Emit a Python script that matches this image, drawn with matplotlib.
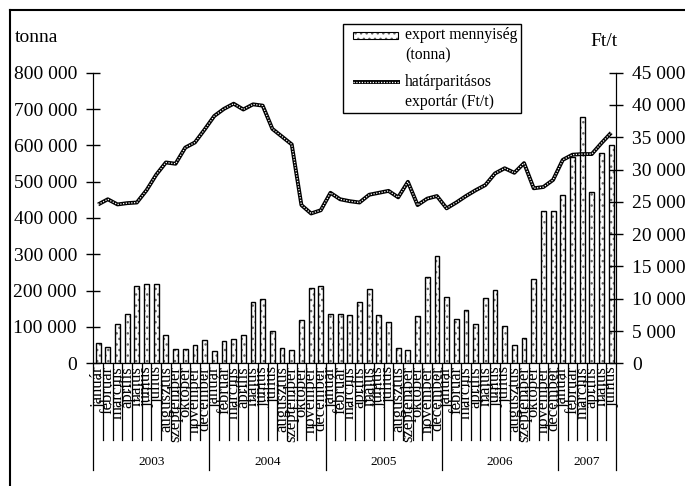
import numpy as np
import matplotlib
matplotlib.use("Agg")
import matplotlib.pyplot as plt
from matplotlib.patches import Rectangle
from matplotlib.lines import Line2D

plt.rcParams['font.family'] = ['Liberation Serif', 'DejaVu Serif']
plt.rcParams['hatch.linewidth'] = 1.0

# hónapok / évek
months = ["január", "február", "március", "április", "május", "június",
          "július", "augusztus", "szeptember", "október", "november", "december"]
years = ["2003", "2004", "2005", "2006", "2007"]
months_per_year = [12, 12, 12, 12, 6]

# export mennyiség (tonna)
export_t = [55000, 44000, 109000, 137000, 213000, 217000, 217000, 78000, 39000, 39000, 51000, 63000,
            33000, 61000, 66000, 78000, 168000, 176000, 88000, 41000, 36000, 118000, 206000, 213000,
            137000, 137000, 134000, 168000, 204000, 134000, 113000, 41000, 36000, 130000, 238000, 295000,
            182000, 121000, 146000, 109000, 179000, 201000, 103000, 51000, 69000, 231000, 418000, 418000,
            464000, 569000, 678000, 471000, 578000, 601000]

# határparitásos exportár (Ft/t)
price_ft = [24600, 25400, 24600, 24800, 24900, 26800, 29200, 31100, 30900, 33400, 34200, 36200,
            38300, 39400, 40200, 39300, 40100, 39900, 36300, 35100, 33900, 24500, 23200, 23700,
            26400, 25400, 25100, 24900, 26100, 26400, 26700, 25700, 28100, 24500, 25500, 25900,
            24000, 24900, 25900, 26800, 27600, 29400, 30200, 29500, 31000, 27100, 27300, 28400,
            31500, 32300, 32400, 32400, 34100, 35700]

W, H = 685, 486
fig = plt.figure(figsize=(W / 100, H / 100), dpi=100)
ax_l, ax_r, ax_t, ax_b = 93.3, 616.0, 72.7, 363.3
ax = fig.add_axes([ax_l / W, 1 - ax_b / H, (ax_r - ax_l) / W, (ax_b - ax_t) / H])

n = len(export_t)
x = np.arange(n) + 0.5
labels = [months[i % 12] for i in range(n)]

ax.bar(x, export_t, width=0.5, color='white', edgecolor='#666666', hatch='...', linewidth=0)
ax.bar(x, export_t, width=0.5, fill=False, edgecolor='black', linewidth=1.0)
ax.set_xlim(0, n)
ax.set_ylim(0, 800000)
yt = np.arange(0, 800001, 100000)
ax.set_yticks(yt)
ax.set_yticklabels([f"{v:,}".replace(",", " ") for v in yt])
ax.spines['top'].set_visible(False)
ax.tick_params(axis='y', direction='inout', length=9.5, width=1, labelsize=14, pad=7)
ax.set_xticks(x)
ax.set_xticklabels(labels, rotation=90, fontsize=12)
ax.tick_params(axis='x', length=0, pad=2)

ax2 = ax.twinx()
ax2.plot(x, price_ft, color='black', lw=2.8, solid_capstyle='butt', zorder=3)
ax2.plot(x, price_ft, color='white', lw=0.9, linestyle=(0, (1, 1.2)), zorder=4)
ax2.set_ylim(0, 45000)
yt2 = np.arange(0, 45001, 5000)
ax2.set_yticks(yt2)
ax2.set_yticklabels([f"{v:,}".replace(",", " ") for v in yt2])
ax2.spines['top'].set_visible(False)
ax2.tick_params(axis='y', direction='inout', length=9.5, width=1, labelsize=14, pad=7)

# kategória elválasztók
axh = ax_b - ax_t
trans = ax.get_xaxis_transform()
month_bottom = -(440 - ax_b) / axh
year_bottom = -(470 - ax_b) / axh
year_bounds = list(np.cumsum([0] + months_per_year))
for b in range(n + 1):
    yb = year_bottom if b in year_bounds else month_bottom
    ax.plot([b, b], [0, yb], transform=trans, clip_on=False, color='black', lw=0.9)
for i, yr in enumerate(years):
    c = (year_bounds[i] + year_bounds[i + 1]) / 2
    ax.text(c, -(461.7 - ax_b) / axh, yr, transform=trans, ha='center', va='center', fontsize=9.5)

# tengelycímek
fig.text(15 / W, 1 - 38 / H, "tonna", fontsize=14, ha='left', va='center')
fig.text(590 / W, 1 - 41 / H, "Ft/t", fontsize=14, ha='left', va='center')

# jelmagyarázat
tf = fig.transFigure
fig.patches.append(Rectangle((343 / W, 1 - 113 / H), (521 - 343) / W, (113 - 24) / H,
                             transform=tf, fill=False, edgecolor='black', lw=1))
fig.patches.append(Rectangle((353 / W, 1 - 38.5 / H), 45 / W, 7 / H, transform=tf,
                             facecolor='white', edgecolor='#666666', hatch='...', lw=0))
fig.patches.append(Rectangle((353 / W, 1 - 38.5 / H), 45 / W, 7 / H, transform=tf,
                             fill=False, edgecolor='black', lw=0.8))
fig.lines.append(Line2D([353 / W, 400 / W], [1 - 81.7 / H] * 2, transform=tf,
                        color='black', lw=2.8, solid_capstyle='butt'))
fig.lines.append(Line2D([353 / W, 400 / W], [1 - 81.7 / H] * 2, transform=tf,
                        color='white', lw=0.9, linestyle=(0, (1, 1.2))))
leg_font = 11.3
for txt, py in [("export mennyiség", 35), ("(tonna)", 55),
                ("határparitásos", 81.7), ("exportár (Ft/t)", 101.7)]:
    fig.text(405 / W, 1 - py / H, txt, fontsize=leg_font, ha='left', va='center')

# keret
fig.lines.append(Line2D([10 / W, 10 / W], [-0.01, 1 - 10 / H], transform=tf, color='black', lw=1.5))
fig.lines.append(Line2D([10 / W, 1.01], [1 - 10 / H] * 2, transform=tf, color='black', lw=1.5))

fig.savefig("out.png", dpi=100)
